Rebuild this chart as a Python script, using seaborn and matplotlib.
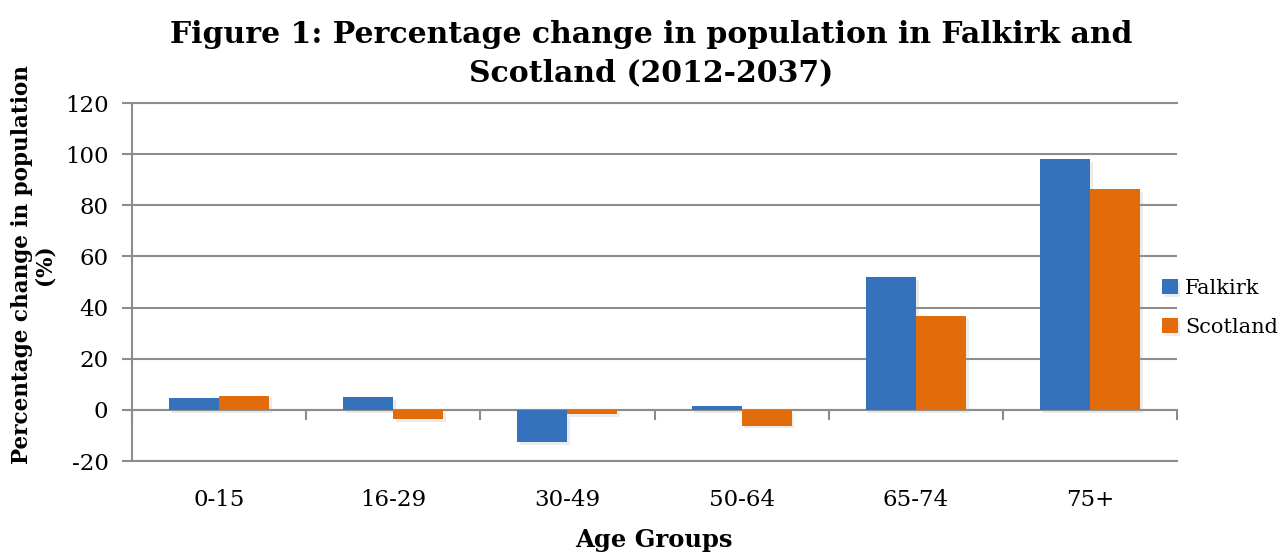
import matplotlib
matplotlib.use('Agg')
import matplotlib.pyplot as plt
import matplotlib.patheffects as pe
import seaborn as sns
import pandas as pd

categories = ['0-15', '16-29', '30-49', '50-64', '65-74', '75+']
falkirk = [4.7, 5.1, -12.7, 1.5, 52.0, 98.0]
scotland = [5.6, -3.6, -1.6, -6.2, 36.7, 86.2]
series_names = ['Falkirk', 'Scotland']
y_ticks = [-20, 0, 20, 40, 60, 80, 100, 120]

df = pd.DataFrame({
    'Age Group': categories * 2,
    'Change': falkirk + scotland,
    'Area': [series_names[0]] * len(categories) + [series_names[1]] * len(categories),
})

sns.set_theme(style='white')
plt.rcParams['font.family'] = ['DejaVu Serif']
plt.rcParams['axes.unicode_minus'] = False
plt.rcParams['text.color'] = 'black'
plt.rcParams['xtick.color'] = 'black'
plt.rcParams['ytick.color'] = 'black'

GRAY = '#8c8c8c'
W, H = 1281, 553
fig = plt.figure(figsize=(W / 100, H / 100), dpi=100)
ax = fig.add_axes([132 / W, (H - 461) / H, (1177 - 132) / W, (461 - 103) / H])

sns.barplot(data=df, x='Age Group', y='Change', hue='Area',
            palette=['#3572BC', '#E36C0A'], saturation=1, width=0.575,
            errorbar=None, ax=ax, legend=True, linewidth=0, edgecolor='none')

for p in ax.patches:
    p.set_path_effects([pe.SimplePatchShadow(offset=(2, -2), shadow_rgbFace='#aaaaaa', alpha=0.22), pe.Normal()])

ax.set_ylim(-20, 120)
ax.set_yticks(y_ticks)
ax.set_xlim(-0.5, len(categories) - 0.5)
ax.yaxis.grid(True, color=GRAY, lw=1.5)
ax.set_axisbelow(True)
for s in ['top', 'bottom', 'left']:
    ax.spines[s].set_color(GRAY)
    ax.spines[s].set_linewidth(1.5)
ax.spines['right'].set_visible(False)
ax.tick_params(axis='y', left=True, length=7, width=1.5, color=GRAY, labelsize=16.5, pad=10,
               labelcolor='black')
ax.tick_params(axis='x', bottom=False, length=0, labelsize=16.5, pad=20, labelcolor='black')
ax.set_xlabel('')
ax.set_ylabel('')

sec = ax.secondary_xaxis(20 / 140)
sec.set_xticks([i - 0.5 for i in range(len(categories) + 1)])
sec.tick_params(axis='x', length=7, width=1.5, color=GRAY, labelbottom=False, labeltop=False, direction='out')
for s in sec.spines.values():
    s.set_color(GRAY)
    s.set_linewidth(1.5)

handles, labels = ax.get_legend_handles_labels()
leg = ax.legend(handles, labels, loc='center left', bbox_to_anchor=(1162 / W, 1 - 308 / H),
                bbox_transform=fig.transFigure, frameon=False, fontsize=15,
                handlelength=0.75, handleheight=0.75, handletextpad=0.35, labelspacing=0.95,
                borderaxespad=0, borderpad=0)
for t in leg.get_texts():
    t.set_color('black')

fig.text(651 / W, 1 - 54 / H, 'Figure 1: Percentage change in population in Falkirk and\nScotland (2012-2037)',
         ha='center', va='center', fontsize=21.5, fontweight='bold', linespacing=1.4, color='black')
fig.text(33 / W, 1 - 265 / H, 'Percentage change in population\n(%)', rotation=90,
         ha='center', va='center', fontsize=15.5, fontweight='bold', multialignment='center',
         linespacing=1.05, color='black')
fig.text(654 / W, 1 - 540 / H, 'Age Groups', ha='center', va='center', fontsize=17.5,
         fontweight='bold', color='black')

fig.savefig('out.png', dpi=100)
